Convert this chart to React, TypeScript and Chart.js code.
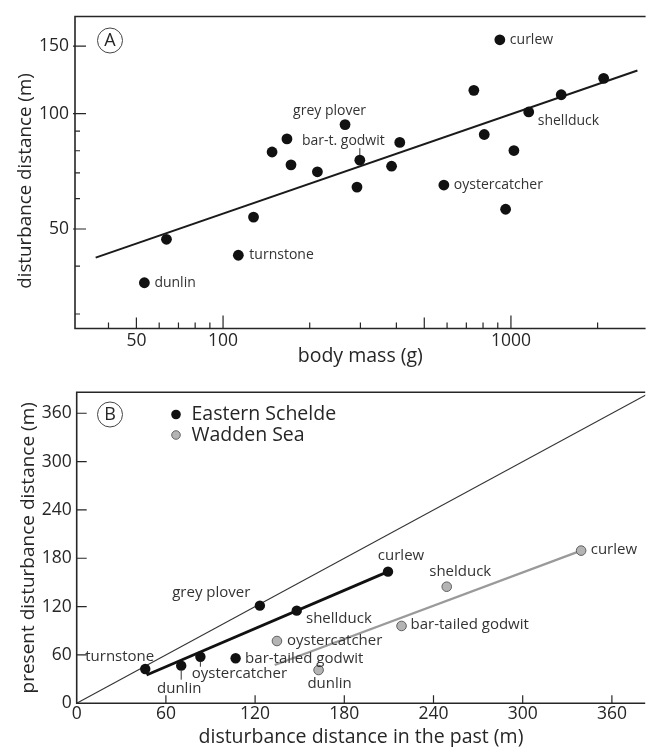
import React, { useEffect, useRef } from "react";
import { Chart, registerables } from "chart.js";

Chart.register(...registerables);

// ---------- Panel A data (body mass vs disturbance distance, log-log) ----------
const massA = [53.3, 63.6, 113, 127.6, 148, 166.7, 172.2, 212.7, 265.3, 291.9, 298.6, 384.9, 411, 584.8, 743.3, 807.7, 915, 958.3, 1024, 1153, 1495, 2099];
const distA = [36.2, 47.0, 42.7, 53.7, 79.4, 85.9, 73.5, 70.5, 93.6, 64.3, 75.6, 72.9, 84.1, 65.1, 115.0, 88.2, 155.8, 56.3, 80.1, 101.0, 112.0, 123.6];
const fitMassA = [36.1, 2750];
const fitDistA = [42.1, 129.6];
const xTicksA = [40, 50, 60, 70, 80, 90, 100, 200, 300, 400, 500, 600, 700, 800, 900, 1000, 2000];
const xLabelsA = [50, 100, 1000];
const yTicksA = [30, 40, 50, 60, 70, 80, 90, 100, 150];
const yLabelsA = [50, 100, 150];
const namesA = ["dunlin", "turnstone", "grey plover", "bar-t. godwit", "oystercatcher", "curlew", "shellduck"];
const namedIdxA = [0, 2, 8, 10, 13, 16, 19];

// ---------- Panel B data (past vs present disturbance distance) ----------
const speciesES = ["turnstone", "dunlin", "oystercatcher", "bar-tailed godwit", "grey plover", "shellduck", "curlew"];
const pastES = [46.1, 70.3, 83.2, 106.9, 123.2, 148.0, 209.4];
const presentES = [42.6, 46.7, 57.8, 55.9, 121.2, 115.0, 163.4];
const speciesWS = ["oystercatcher", "dunlin", "bar-tailed godwit", "shelduck", "curlew"];
const pastWS = [134.7, 162.7, 218.5, 248.9, 339.3];
const presentWS = [77.3, 41.3, 96.0, 144.7, 189.5];
const fitPastES = [47.0, 209.4];
const fitPresentES = [35.2, 163.4];
const fitPastWS = [133.2, 339.3];
const fitPresentWS = [47.5, 189.5];
const diagonal = [0, 400];
const ticksB = [0, 60, 120, 180, 240, 300, 360];

// ---------- styling / layout ----------
const FONT = "'Open Sans', 'Noto Sans', sans-serif";
const INK = "#262626";
const GREY_FILL = "#b4b4b4";
const GREY_LINE = "#9a9a9a";

// label layout: [dx, dy, align, leader?]
type Lay = { dx: number; dy: number; align: CanvasTextAlign; lead?: [number, number] };
const layoutA: Lay[] = [
  { dx: 10, dy: 0, align: "left" },
  { dx: 11, dy: 0, align: "left" },
  { dx: -15.5, dy: -14, align: "center" },
  { dx: -16.5, dy: -19, align: "center", lead: [-12, -5] },
  { dx: 10, dy: 0, align: "left" },
  { dx: 10, dy: 0, align: "left" },
  { dx: 9, dy: 9, align: "left" },
];
const layoutES: Lay[] = [
  { dx: -25.5, dy: -12.5, align: "center" },
  { dx: -2, dy: 23, align: "center", lead: [5, 14] },
  { dx: 39, dy: 17, align: "center", lead: [5, 10] },
  { dx: 9.5, dy: 0, align: "left" },
  { dx: -9.5, dy: -12.5, align: "right" },
  { dx: 9.3, dy: 7.6, align: "left" },
  { dx: 13, dy: -16, align: "center" },
];
const layoutWS: Lay[] = [
  { dx: 10, dy: 0, align: "left" },
  { dx: 11, dy: 14, align: "center" },
  { dx: 9, dy: -1, align: "left" },
  { dx: 13.5, dy: -15, align: "center" },
  { dx: 9.6, dy: -0.7, align: "left" },
];

function drawLabels(ctx: CanvasRenderingContext2D, chart: any, xs: number[], ys: number[], names: string[], lay: Lay[], size: number) {
  const sx = chart.scales.x, sy = chart.scales.y;
  ctx.font = `${size}px ${FONT}`;
  ctx.fillStyle = "#333";
  ctx.strokeStyle = "#333";
  ctx.lineWidth = 1;
  ctx.textBaseline = "middle";
  names.forEach((n, k) => {
    const px = sx.getPixelForValue(xs[k]);
    const py = sy.getPixelForValue(ys[k]);
    const l = lay[k];
    ctx.textAlign = l.align;
    ctx.fillText(n, px + l.dx, py + l.dy);
    if (l.lead) {
      ctx.beginPath();
      ctx.moveTo(px, py + l.lead[0]);
      ctx.lineTo(px, py + l.lead[1]);
      ctx.stroke();
    }
  });
}

function drawPanelLetter(ctx: CanvasRenderingContext2D, x: number, y: number, letter: string) {
  ctx.save();
  ctx.strokeStyle = "#444";
  ctx.lineWidth = 1;
  ctx.beginPath();
  ctx.arc(x, y, 12.5, 0, Math.PI * 2);
  ctx.stroke();
  ctx.fillStyle = INK;
  ctx.font = `18px ${FONT}`;
  ctx.textAlign = "center";
  ctx.textBaseline = "middle";
  ctx.fillText(letter, x, y + 0.5);
  ctx.restore();
}

const panelAPlugin = {
  id: "panelA",
  afterDraw(chart: any) {
    const { ctx, chartArea: ca } = chart;
    const sx = chart.scales.x, sy = chart.scales.y;
    ctx.save();
    ctx.strokeStyle = INK;
    ctx.lineWidth = 1.6;
    ctx.beginPath();
    ctx.moveTo(ca.right, ca.top);
    ctx.lineTo(ca.left, ca.top);
    ctx.lineTo(ca.left, ca.bottom);
    ctx.lineTo(ca.right, ca.bottom);
    ctx.stroke();
    ctx.lineWidth = 1.2;
    ctx.beginPath();
    xTicksA.forEach((v) => {
      const p = sx.getPixelForValue(v);
      const len = v === 100 || v === 1000 ? 13 : v === 50 || v === 500 ? 11 : 6;
      ctx.moveTo(p, ca.bottom);
      ctx.lineTo(p, ca.bottom - len);
    });
    yTicksA.forEach((v) => {
      const p = sy.getPixelForValue(v);
      const major = yLabelsA.includes(v);
      ctx.moveTo(ca.left - (major ? 2 : 0), p);
      ctx.lineTo(ca.left + (major ? 11 : 5), p);
    });
    ctx.stroke();
    // y axis title
    ctx.save();
    ctx.translate(26, 181);
    ctx.rotate(-Math.PI / 2);
    ctx.font = `18.8px ${FONT}`;
    ctx.fillStyle = INK;
    ctx.textAlign = "center";
    ctx.textBaseline = "middle";
    ctx.fillText("disturbance distance (m)", 0, 0);
    ctx.restore();
    drawPanelLetter(ctx, 110, 40.5, "A");
    drawLabels(
      ctx,
      chart,
      namedIdxA.map((i) => massA[i]),
      namedIdxA.map((i) => distA[i]),
      namesA,
      layoutA,
      14
    );
    ctx.restore();
  },
};

const panelBPlugin = {
  id: "panelB",
  afterDraw(chart: any) {
    const { ctx, chartArea: ca } = chart;
    const sx = chart.scales.x, sy = chart.scales.y;
    ctx.save();
    ctx.strokeStyle = INK;
    ctx.lineWidth = 1.6;
    ctx.beginPath();
    ctx.moveTo(ca.right, ca.top);
    ctx.lineTo(ca.left, ca.top);
    ctx.lineTo(ca.left, ca.bottom);
    ctx.lineTo(ca.right, ca.bottom);
    ctx.stroke();
    ctx.lineWidth = 1.2;
    ctx.beginPath();
    ticksB.forEach((v) => {
      if (v === 0) return;
      const px = sx.getPixelForValue(v);
      ctx.moveTo(px, ca.bottom);
      ctx.lineTo(px, ca.bottom - 8);
      const py = sy.getPixelForValue(v);
      ctx.moveTo(ca.left, py);
      ctx.lineTo(ca.left + 10, py);
    });
    ctx.stroke();
    drawPanelLetter(ctx, 110, 44.5, "B");
    // legend
    ctx.font = `19.5px ${FONT}`;
    ctx.textAlign = "left";
    ctx.textBaseline = "middle";
    ctx.fillStyle = "#111";
    ctx.beginPath();
    ctx.arc(176, 44.5, 4.8, 0, Math.PI * 2);
    ctx.fill();
    ctx.fillStyle = INK;
    ctx.fillText("Eastern Schelde", 191.5, 44.5);
    ctx.beginPath();
    ctx.arc(176, 65, 4.3, 0, Math.PI * 2);
    ctx.fillStyle = GREY_FILL;
    ctx.fill();
    ctx.strokeStyle = "#666";
    ctx.lineWidth = 1;
    ctx.stroke();
    ctx.fillStyle = INK;
    ctx.fillText("Wadden Sea", 191.5, 65);
    drawLabels(ctx, chart, pastES, presentES, speciesES, layoutES, 15);
    drawLabels(ctx, chart, pastWS, presentWS, speciesWS, layoutWS, 15);
    ctx.restore();
  },
};

function PanelA() {
  const ref = useRef<HTMLCanvasElement>(null);
  useEffect(() => {
    const chart = new Chart(ref.current as HTMLCanvasElement, {
      type: "scatter",
      data: {
        datasets: [
          {
            label: "species",
            data: massA.map((x, i) => ({ x, y: distA[i] })),
            backgroundColor: "#111",
            borderColor: "#111",
            borderWidth: 0,
            pointRadius: 5.4,
          },
          {
            label: "regression",
            data: fitMassA.map((x, i) => ({ x, y: fitDistA[i] })),
            showLine: true,
            borderColor: "#1a1a1a",
            borderWidth: 2,
            pointRadius: 0,
          },
        ],
      },
      options: {
        animation: false,
        responsive: false,
        devicePixelRatio: 1,
        layout: { padding: { top: 16, left: 0, right: 0, bottom: 0 } },
        plugins: { legend: { display: false }, tooltip: { enabled: false } },
        scales: {
          x: {
            type: "logarithmic",
            position: "bottom",
            min: 30.6,
            max: 2936,
            afterBuildTicks: (s: any) => {
              s.ticks = xTicksA.map((v) => ({ value: v }));
            },
            afterFit: (s: any) => {
              s.height = 41.5;
            },
            grid: { display: false, drawTicks: false },
            border: { display: false },
            ticks: {
              autoSkip: false,
              maxRotation: 0,
              padding: 2.5,
              color: INK,
              font: { family: FONT, size: 17.5 },
              callback: (v: any) => (xLabelsA.includes(Number(v)) ? String(v) : ""),
            },
            title: {
              display: true,
              text: "body mass (g)",
              color: INK,
              font: { family: FONT, size: 19.5 },
              padding: { top: 0, bottom: 1.5 },
            },
          },
          y: {
            type: "logarithmic",
            position: "left",
            min: 27.5,
            max: 179.2,
            afterBuildTicks: (s: any) => {
              s.ticks = yTicksA.map((v) => ({ value: v }));
            },
            afterFit: (s: any) => {
              s.width = 75;
            },
            grid: { display: false, drawTicks: false },
            border: { display: false },
            ticks: {
              autoSkip: false,
              padding: 6,
              color: INK,
              font: { family: FONT, size: 17.5 },
              callback: (v: any) => (yLabelsA.includes(Number(v)) ? String(v) : ""),
            },
          },
        },
      },
      plugins: [panelAPlugin],
    } as any);
    return () => chart.destroy();
  }, []);
  return (
    <canvas
      ref={ref}
      width={651}
      height={370}
      style={{ position: "absolute", left: 0, top: 0, width: 651, height: 370 }}
    />
  );
}

function PanelB() {
  const ref = useRef<HTMLCanvasElement>(null);
  useEffect(() => {
    const chart = new Chart(ref.current as HTMLCanvasElement, {
      type: "scatter",
      data: {
        datasets: [
          {
            label: "Eastern Schelde",
            data: pastES.map((x, i) => ({ x, y: presentES[i] })),
            backgroundColor: "#111",
            borderColor: "#111",
            borderWidth: 0,
            pointRadius: 5.2,
          },
          {
            label: "Wadden Sea",
            data: pastWS.map((x, i) => ({ x, y: presentWS[i] })),
            backgroundColor: GREY_FILL,
            borderColor: "#5e5e5e",
            borderWidth: 1,
            pointRadius: 4.8,
          },
          {
            label: "Eastern Schelde fit",
            data: fitPastES.map((x, i) => ({ x, y: fitPresentES[i] })),
            showLine: true,
            borderColor: "#111",
            borderWidth: 2.8,
            pointRadius: 0,
          },
          {
            label: "Wadden Sea fit",
            data: fitPastWS.map((x, i) => ({ x, y: fitPresentWS[i] })),
            showLine: true,
            borderColor: GREY_LINE,
            borderWidth: 2.3,
            pointRadius: 0,
          },
          {
            label: "1:1",
            data: diagonal.map((v) => ({ x: v, y: v })),
            showLine: true,
            borderColor: "#333",
            borderWidth: 1.1,
            pointRadius: 0,
          },
        ],
      },
      options: {
        animation: false,
        responsive: false,
        devicePixelRatio: 1,
        layout: { padding: { top: 22.3, left: 0, right: 0, bottom: 0 } },
        plugins: { legend: { display: false }, tooltip: { enabled: false } },
        scales: {
          x: {
            type: "linear",
            position: "bottom",
            min: 0,
            max: 382.4,
            afterBuildTicks: (s: any) => {
              s.ticks = ticksB.map((v) => ({ value: v }));
            },
            afterFit: (s: any) => {
              s.height = 43.7;
            },
            grid: { display: false, drawTicks: false },
            border: { display: false },
            ticks: {
              autoSkip: false,
              maxRotation: 0,
              padding: 0.5,
              color: INK,
              font: { family: FONT, size: 17.5 },
            },
            title: {
              display: true,
              text: "disturbance distance in the past (m)",
              color: INK,
              font: { family: FONT, size: 19.5 },
              padding: { top: 0, bottom: -2.5 },
            },
          },
          y: {
            type: "linear",
            position: "left",
            min: 0,
            max: 386,
            afterBuildTicks: (s: any) => {
              s.ticks = ticksB.map((v) => ({ value: v }));
            },
            afterFit: (s: any) => {
              s.width = 76.7;
            },
            grid: { display: false, drawTicks: false },
            border: { display: false },
            ticks: {
              autoSkip: false,
              padding: 5,
              color: INK,
              font: { family: FONT, size: 17.5 },
            },
            title: {
              display: true,
              text: "present disturbance distance (m)",
              color: INK,
              font: { family: FONT, size: 19 },
              padding: { top: 17.6, bottom: 0 },
            },
          },
        },
      },
      plugins: [panelBPlugin],
    } as any);
    return () => chart.destroy();
  }, []);
  return (
    <canvas
      ref={ref}
      width={651}
      height={377}
      style={{ position: "absolute", left: 0, top: 370, width: 651, height: 377 }}
    />
  );
}

export default function App() {
  return (
    <div style={{ position: "absolute", left: 0, top: 0, width: 651, height: 747, background: "#fff", overflow: "hidden" }}>
      <PanelA />
      <PanelB />
    </div>
  );
}
